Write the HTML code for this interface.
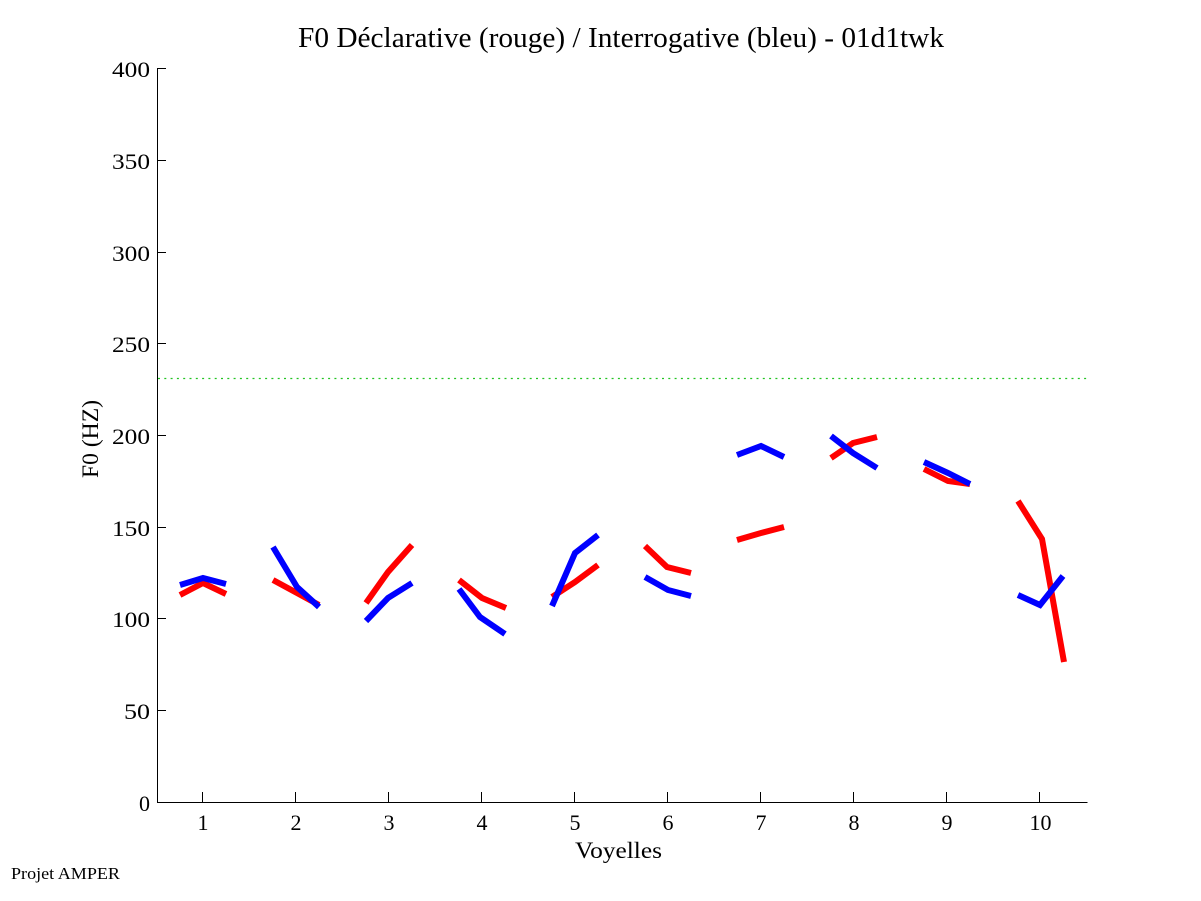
<!DOCTYPE html>
<html>
<head>
<meta charset="utf-8">
<style>
html,body{margin:0;padding:0;background:#fff;}
svg{display:block;}
text{font-family:"Liberation Serif","Times New Roman",serif;fill:#000;}
</style>
</head>
<body>
<svg width="1201" height="901" viewBox="0 0 1201 901" xmlns="http://www.w3.org/2000/svg">
<rect x="0" y="0" width="1201" height="901" fill="#fff"/>

<!-- title -->
<text x="298" y="47" font-size="28" textLength="646" lengthAdjust="spacingAndGlyphs">F0 Déclarative (rouge) / Interrogative (bleu) - 01d1twk</text>

<!-- green dotted reference line -->
<line x1="158" y1="378.5" x2="1087" y2="378.5" stroke="#22c422" stroke-width="1.2" stroke-dasharray="2 4.3"/>

<!-- axes -->
<g stroke="#000" stroke-width="1" shape-rendering="crispEdges">
<line x1="157.5" y1="68" x2="157.5" y2="802.5"/>
<line x1="157" y1="802.5" x2="1087.5" y2="802.5"/>
<!-- y ticks -->
<line x1="157" y1="68.5" x2="166" y2="68.5"/>
<line x1="157" y1="160.5" x2="166" y2="160.5"/>
<line x1="157" y1="252.5" x2="166" y2="252.5"/>
<line x1="157" y1="343.5" x2="166" y2="343.5"/>
<line x1="157" y1="435.5" x2="166" y2="435.5"/>
<line x1="157" y1="527.5" x2="166" y2="527.5"/>
<line x1="157" y1="618.5" x2="166" y2="618.5"/>
<line x1="157" y1="710.5" x2="166" y2="710.5"/>
<!-- x ticks -->
<line x1="202.5" y1="802" x2="202.5" y2="792"/>
<line x1="295.5" y1="802" x2="295.5" y2="792"/>
<line x1="388.5" y1="802" x2="388.5" y2="792"/>
<line x1="481.5" y1="802" x2="481.5" y2="792"/>
<line x1="574.5" y1="802" x2="574.5" y2="792"/>
<line x1="667.5" y1="802" x2="667.5" y2="792"/>
<line x1="760.5" y1="802" x2="760.5" y2="792"/>
<line x1="853.5" y1="802" x2="853.5" y2="792"/>
<line x1="946.5" y1="802" x2="946.5" y2="792"/>
<line x1="1039.5" y1="802" x2="1039.5" y2="792"/>
</g>

<!-- y tick labels -->
<g font-size="22" text-anchor="end">
<text x="150" y="77" textLength="38" lengthAdjust="spacingAndGlyphs">400</text>
<text x="150" y="169" textLength="38" lengthAdjust="spacingAndGlyphs">350</text>
<text x="150" y="261" textLength="38" lengthAdjust="spacingAndGlyphs">300</text>
<text x="150" y="352" textLength="38" lengthAdjust="spacingAndGlyphs">250</text>
<text x="150" y="444" textLength="38" lengthAdjust="spacingAndGlyphs">200</text>
<text x="150" y="536" textLength="38" lengthAdjust="spacingAndGlyphs">150</text>
<text x="150" y="627" textLength="38" lengthAdjust="spacingAndGlyphs">100</text>
<text x="150" y="719" textLength="26" lengthAdjust="spacingAndGlyphs">50</text>
<text x="150" y="811">0</text>
</g>

<!-- x tick labels -->
<g font-size="22" text-anchor="middle">
<text x="203" y="830">1</text>
<text x="296" y="830">2</text>
<text x="389" y="830">3</text>
<text x="482" y="830">4</text>
<text x="575" y="830">5</text>
<text x="668" y="830">6</text>
<text x="761" y="830">7</text>
<text x="854" y="830">8</text>
<text x="947" y="830">9</text>
<text x="1040.5" y="830">10</text>
</g>

<!-- axis labels -->
<text x="575" y="858" font-size="23" textLength="87" lengthAdjust="spacingAndGlyphs">Voyelles</text>
<text transform="translate(98,478) rotate(-90)" font-size="23" textLength="78" lengthAdjust="spacingAndGlyphs">F0 (HZ)</text>

<!-- footer -->
<text x="11" y="879" font-size="17" textLength="109" lengthAdjust="spacingAndGlyphs">Projet AMPER</text>

<!-- red series -->
<g fill="none" stroke="#ff0000" stroke-width="6" stroke-linejoin="miter" stroke-linecap="butt">
<polyline points="180,595 203,583 226,594"/>
<polyline points="273,580 297,593 319,605"/>
<polyline points="366,603 388,572 412,545"/>
<polyline points="459,580 482,598 506,608"/>
<polyline points="552,597 575,582 598,565"/>
<polyline points="645,546 667,567 691,573"/>
<polyline points="737,540 761,533 784,527"/>
<polyline points="831,458 853,443 877,437"/>
<polyline points="924,469 948,481 970,484"/>
<polyline points="1018,501 1042,539 1064,662"/>
</g>

<!-- blue series -->
<g fill="none" stroke="#0000ff" stroke-width="6" stroke-linejoin="miter" stroke-linecap="butt">
<polyline points="180,585 203,578 226,584"/>
<polyline points="273,547 297,587 319,607"/>
<polyline points="366,621 388,598 412,583"/>
<polyline points="459,589 480,617 505,634"/>
<polyline points="552,606 575,553 598,535"/>
<polyline points="645,577 668,590 691,596"/>
<polyline points="737,455 761,446 784,457"/>
<polyline points="831,436 853,453 877,468"/>
<polyline points="924,462 948,473 970,484"/>
<polyline points="1018,595 1040,605 1063,576"/>
</g>
</svg>
</body>
</html>
